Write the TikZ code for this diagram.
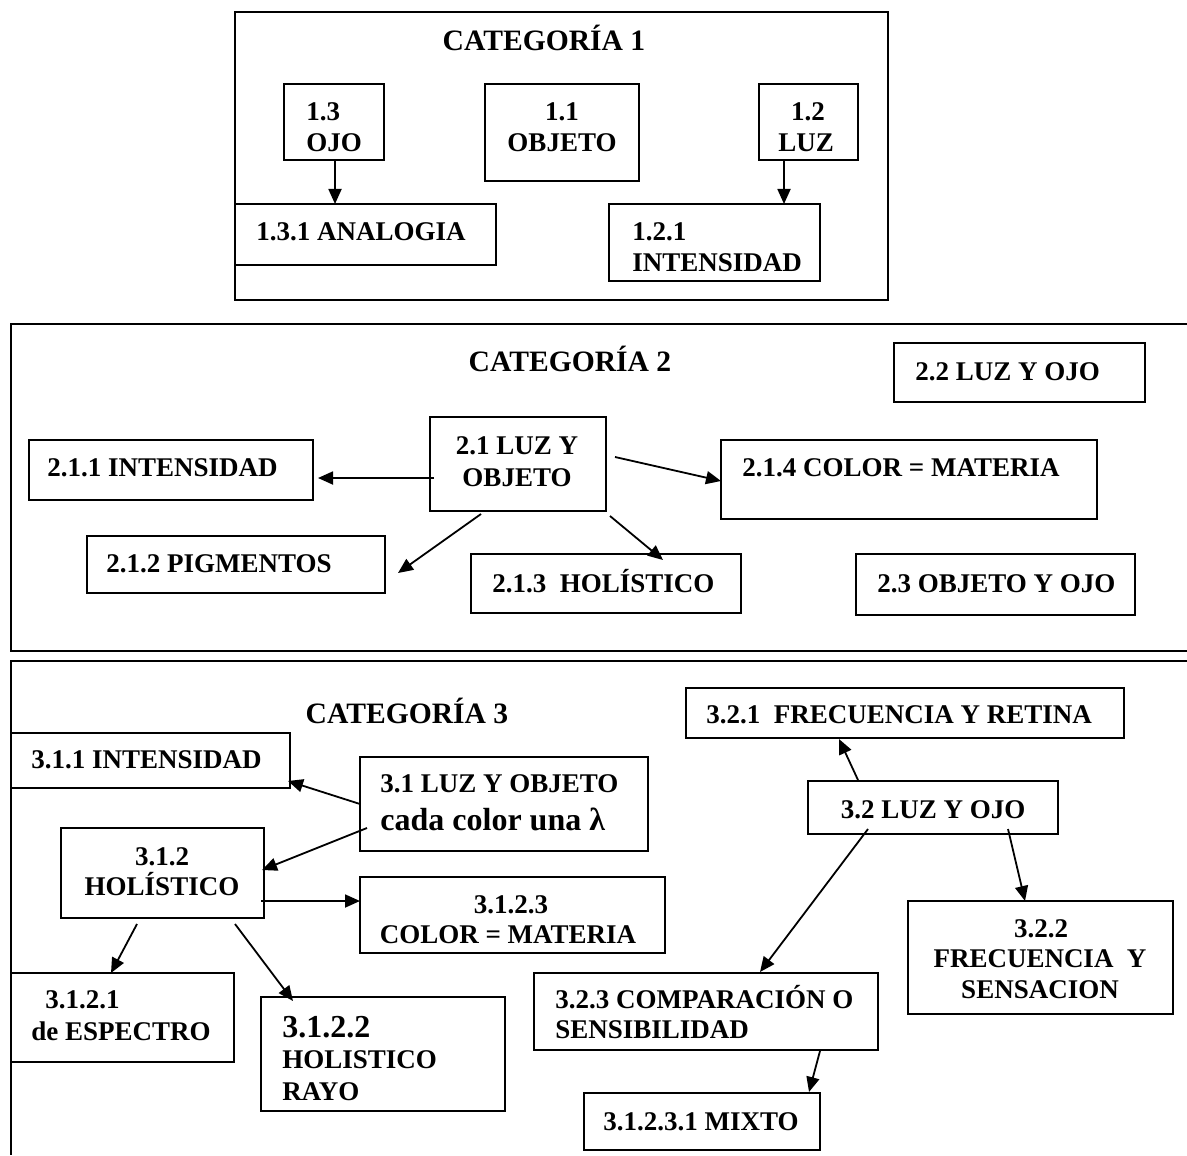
\documentclass[tikz,border=0pt]{standalone}
\usepackage{fontspec}
\setmainfont{Liberation Serif}
\usetikzlibrary{arrows.meta,calc,fit}
\begin{document}
\begin{tikzpicture}[x=0.5pt,y=-0.5pt,
  box/.style={draw,line width=1pt,inner sep=0pt,outer sep=0pt},
  frame/.style={line width=1pt},
  tx/.style={inner sep=0pt,font=\bfseries\fontsize{13.5}{15}\selectfont},
  bigtx/.style={inner sep=0pt,font=\bfseries\fontsize{16}{18}\selectfont},
  cattx/.style={inner sep=0pt,font=\bfseries\fontsize{14.8}{17}\selectfont},
  arr/.style={line width=0.9pt,-{Triangle[length=7.5pt,width=6.5pt]}}]
\useasboundingbox (0,0) rectangle (1187,1155);

% ---------- Category 1 ----------
\node[box,fit={(235,12) (888,300)}] (cat1) {};
\node[box,fit={(284,84) (384,160)}] (n13) {};
\node[box,fit={(485,84) (639,181)}] (n11) {};
\node[box,fit={(759,84) (858,160)}] (n12) {};
\node[box,fit={(235,204) (496,265)}] (n131) {};
\node[box,fit={(609,204) (820,281)}] (n121) {};

\node[cattx,anchor=base] (tc1) at (544,51) {CATEGORÍA 1};
\node[tx,anchor=base west] (t13a) at (306,121) {1.3};
\node[tx,anchor=base west] (t13b) at (306,152) {OJO};
\node[tx,anchor=base] (t11a) at (562,121) {1.1};
\node[tx,anchor=base] (t11b) at (562,152) {OBJETO};
\node[tx,anchor=base] (t12a) at (808,121) {1.2};
\node[tx,anchor=base] (t12b) at (806,152) {LUZ};
\node[tx,anchor=base west] (t131) at (256,241) {1.3.1 ANALOGIA};
\node[tx,anchor=base west] (t121a) at (632,241) {1.2.1};
\node[tx,anchor=base west] (t121b) at (632,271) {INTENSIDAD};

\draw[arr] ($(n13.north west)+(51,76)$) -- ($(n131.north west)+(100,0)$);
\draw[arr] ($(n12.north west)+(25,76)$) -- ($(n121.north west)+(175,0)$);

% ---------- Category 2 ----------
\draw[frame] (1187,324) -- (11,324) -- (11,651) -- (1187,651);
\node[box,fit={(894,343) (1145,402)}] (n22) {};
\node[box,fit={(430,417) (606,511)}] (n21) {};
\node[box,fit={(29,440) (313,500)}] (n211) {};
\node[box,fit={(721,440) (1097,519)}] (n214) {};
\node[box,fit={(87,536) (385,593)}] (n212) {};
\node[box,fit={(471,554) (741,613)}] (n213) {};
\node[box,fit={(856,554) (1135,615)}] (n23) {};

\node[cattx,anchor=base] (tc2) at (570,371) {CATEGORÍA 2};
\node[tx,anchor=base west] (t22) at (915,380) {2.2 LUZ Y OJO};
\node[tx,anchor=base] (t21a) at (517,454) {2.1 LUZ Y};
\node[tx,anchor=base] (t21b) at (517,486) {OBJETO};
\node[tx,anchor=base west] (t211) at (47,476) {2.1.1 INTENSIDAD};
\node[tx,anchor=base west] (t214) at (742,476) {2.1.4 COLOR = MATERIA};
\node[tx,anchor=base west] (t212) at (106,572) {2.1.2 PIGMENTOS};
\node[tx,anchor=base west] (t213) at (492,592) {2.1.3\ \ HOLÍSTICO};
\node[tx,anchor=base west] (t23) at (877,592) {2.3 OBJETO Y OJO};

\draw[arr] ($(n21.north west)+(4,61)$) -- ($(n211.north west)+(289,38)$);
\draw[arr] ($(n21.north west)+(185,40)$) -- ($(n214.north west)+(0,41)$);
\draw[arr] ($(n21.north west)+(51,97)$) -- ($(n212.north west)+(311,37)$);
\draw[arr] ($(n21.north west)+(180,99)$) -- ($(n213.north west)+(192,6)$);

% ---------- Category 3 ----------
\draw[frame] (1187,661) -- (11,661) -- (11,1155);
\node[box,fit={(11,733) (290,788)}] (n311) {};
\node[box,fit={(360,757) (648,851)}] (n31) {};
\node[box,fit={(61,828) (264,918)}] (n312) {};
\node[box,fit={(360,877) (665,953)}] (n3123) {};
\node[box,fit={(11,973) (234,1062)}] (n3121) {};
\node[box,fit={(261,997) (505,1111)}] (n3122) {};
\node[box,fit={(686,688) (1124,738)}] (n321) {};
\node[box,fit={(808,781) (1058,834)}] (n32) {};
\node[box,fit={(908,901) (1173,1014)}] (n322) {};
\node[box,fit={(534,973) (878,1050)}] (n323) {};
\node[box,fit={(584,1093) (820,1150)}] (n31231) {};

\node[cattx,anchor=base] (tc3) at (407,723) {CATEGORÍA 3};
\node[tx,anchor=base west] (t311) at (31,768) {3.1.1 INTENSIDAD};
\node[tx,anchor=base west] (t31a) at (380,792) {3.1 LUZ Y OBJETO};
\node[bigtx,anchor=base west] (t31b) at (380,830) {cada color una λ};
\node[tx,anchor=base] (t312a) at (162,865) {3.1.2};
\node[tx,anchor=base] (t312b) at (162,895) {HOLÍSTICO};
\node[tx,anchor=base] (t3123a) at (511,913) {3.1.2.3};
\node[tx,anchor=base] (t3123b) at (508,943) {COLOR = MATERIA};
\node[tx,anchor=base west] (t3121a) at (45,1008) {3.1.2.1};
\node[tx,anchor=base west] (t3121b) at (31,1040) {de ESPECTRO};
\node[bigtx,anchor=base west] (t3122a) at (282,1037) {3.1.2.2};
\node[tx,anchor=base west] (t3122b) at (282,1068) {HOLISTICO};
\node[tx,anchor=base west] (t3122c) at (282,1100) {RAYO};
\node[tx,anchor=base west] (t321) at (706,723) {3.2.1\ \ FRECUENCIA Y RETINA};
\node[tx,anchor=base] (t32) at (933,818) {3.2 LUZ Y OJO};
\node[tx,anchor=base] (t322a) at (1041,937) {3.2.2};
\node[tx,anchor=base] (t322b) at (1040,967) {FRECUENCIA\ \ Y};
\node[tx,anchor=base] (t322c) at (1040,998) {SENSACION};
\node[tx,anchor=base west] (t323a) at (555,1008) {3.2.3 COMPARACIÓN O};
\node[tx,anchor=base west] (t323b) at (555,1038) {SENSIBILIDAD};
\node[tx,anchor=base] (t31231) at (701,1130) {3.1.2.3.1 MIXTO};

\draw[arr] ($(n31.north west)+(0,47)$) -- ($(n311.north west)+(277,48)$);
\draw[arr] ($(n31.north west)+(7,71)$) -- ($(n312.north west)+(201,42)$);
\draw[arr] ($(n312.north west)+(200,73)$) -- ($(n3123.north west)+(0,24)$);
\draw[arr] ($(n312.north west)+(76,96)$) -- ($(n3121.north west)+(100,0)$);
\draw[arr] ($(n312.north west)+(174,96)$) -- ($(n3122.north west)+(32,4)$);
\draw[arr] ($(n32.north west)+(50,-1)$) -- ($(n321.north west)+(153,51)$);
\draw[arr] ($(n32.north west)+(60,48)$) -- ($(n323.north west)+(226,-1)$);
\draw[arr] ($(n32.north west)+(200,48)$) -- ($(n322.north west)+(117,0)$);
\draw[arr] ($(n323.north west)+(286,78)$) -- ($(n31231.north west)+(225,-1)$);
\end{tikzpicture}
\end{document}
